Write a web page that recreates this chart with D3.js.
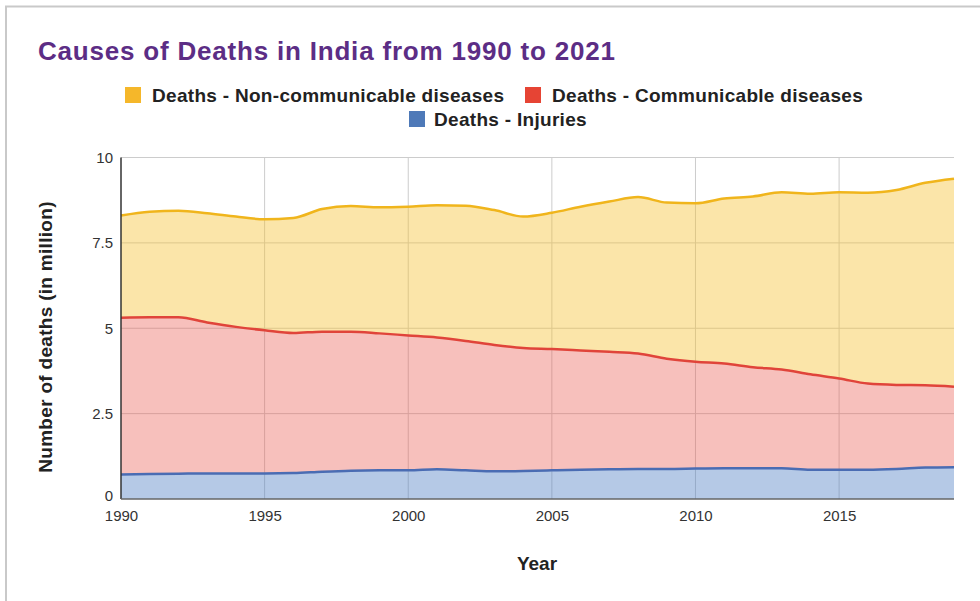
<!DOCTYPE html>
<html><head><meta charset="utf-8">
<script src="https://cdn.jsdelivr.net/npm/d3@7"></script>
<style>html,body{margin:0;padding:0;background:#fff;}svg{display:block;font-family:"Liberation Sans",Arial,sans-serif;}</style>
</head><body>
<script>
const years = [1990,1991,1992,1993,1994,1995,1996,1997,1998,1999,2000,2001,2002,2003,2004,2005,2006,2007,2008,2009,2010,2011,2012,2013,2014,2015,2016,2017,2018,2019];
const injuries = [0.72,0.73,0.74,0.75,0.75,0.75,0.76,0.80,0.83,0.84,0.84,0.87,0.84,0.81,0.82,0.84,0.86,0.87,0.88,0.88,0.89,0.90,0.90,0.90,0.86,0.86,0.86,0.88,0.92,0.93];
const communicable = [4.59,4.59,4.58,4.42,4.29,4.19,4.10,4.10,4.07,4.01,3.95,3.86,3.79,3.70,3.60,3.55,3.49,3.44,3.38,3.23,3.13,3.07,2.96,2.89,2.79,2.67,2.52,2.46,2.41,2.36];
const nonCommunicable = [2.99,3.09,3.12,3.20,3.23,3.25,3.37,3.59,3.68,3.69,3.77,3.87,3.96,3.95,3.85,3.99,4.21,4.40,4.58,4.57,4.64,4.83,5.00,5.19,5.29,5.45,5.59,5.71,5.93,6.09];
const yTicks = [0,2.5,5,7.5,10];
const yTickLabels = ["0","2.5","5","7.5","10"];
const xTicks = [1990,1995,2000,2005,2010,2015];
const seriesNames = ["Deaths - Injuries","Deaths - Communicable diseases","Deaths - Non-communicable diseases"];
const seriesKeys = ["inj","comm","ncd"];

const W = 980, H = 601;
const m = {left:121, right:26, top:157.5, bottom:102};
const svg = d3.select("body").append("svg").attr("width",W).attr("height",H);

// frame
svg.append("line").attr("x1",5).attr("x2",W).attr("y1",6.5).attr("y2",6.5).attr("stroke","#c9c9c9").attr("stroke-width",2);
svg.append("line").attr("x1",6).attr("x2",6).attr("y1",6).attr("y2",H).attr("stroke","#c9c9c9").attr("stroke-width",2);

const x = d3.scaleLinear().domain([1990,2019]).range([m.left, W - m.right]);
const y = d3.scaleLinear().domain([0,10]).range([H - m.bottom, m.top]);

const table = years.map((yr,i)=>({year:yr, inj:injuries[i], comm:communicable[i], ncd:nonCommunicable[i]}));
const stacked = d3.stack().keys(seriesKeys)(table);

const fills = {inj:"#4f7fc4", comm:"#ea5a50", ncd:"#f6c233"};
const fillOp = {inj:0.42, comm:0.38, ncd:0.42};
const strokes = {inj:"#4a6cb3", comm:"#e0443a", ncd:"#f0b51c"};
const legendCol = {inj:"#4e79b8", comm:"#e64434", ncd:"#f5b72a"};

// gridlines
const g = svg.append("g");
g.selectAll(".hg").data(yTicks.filter(d=>d>0)).join("line")
  .attr("x1",x(1990)).attr("x2",x(2019)).attr("y1",d=>y(d)).attr("y2",d=>y(d))
  .attr("stroke","#cccccc").attr("stroke-width",1);
g.selectAll(".vg").data(xTicks.filter(d=>d>1990)).join("line")
  .attr("x1",d=>x(d)).attr("x2",d=>x(d)).attr("y1",y(10)).attr("y2",y(0))
  .attr("stroke","#cccccc").attr("stroke-width",1);

const area = d3.area().x(d=>x(d.data.year)).y0(d=>y(d[0])).y1(d=>y(d[1])).curve(d3.curveMonotoneX);
const line = d3.line().x(d=>x(d.data.year)).y(d=>y(d[1])).curve(d3.curveMonotoneX);

svg.append("g").selectAll("path").data(stacked).join("path")
  .attr("d",area).attr("fill",d=>fills[d.key]).attr("fill-opacity",d=>fillOp[d.key]);
svg.append("g").selectAll("path").data(stacked).join("path")
  .attr("d",line).attr("fill","none").attr("stroke",d=>strokes[d.key]).attr("stroke-width",2.5);

// axes
const yAxis = d3.axisLeft(y).tickValues(yTicks).tickSize(0).tickPadding(8).tickFormat((d,i)=>yTickLabels[i]);
const ya = svg.append("g").attr("transform",`translate(${m.left},0)`).call(yAxis);
ya.select(".domain").remove();
ya.selectAll("text").attr("font-size",15).attr("fill","#333").attr("font-family","Liberation Sans, Arial, sans-serif");
ya.selectAll(".tick").filter(d=>d===0).select("text").attr("dy","0.1em");
svg.append("line").attr("x1",m.left).attr("x2",m.left).attr("y1",y(10)).attr("y2",y(0)).attr("stroke","#333").attr("stroke-width",1.5);

const xAxis = d3.axisBottom(x).tickValues(xTicks).tickSize(0).tickPadding(11).tickFormat(d3.format("d"));
const xa = svg.append("g").attr("transform",`translate(0,${y(0)})`).call(xAxis);
xa.select(".domain").remove();
xa.selectAll("text").attr("font-size",15).attr("fill","#333").attr("font-family","Liberation Sans, Arial, sans-serif");
svg.append("line").attr("x1",m.left).attr("x2",x(2019)).attr("y1",y(0)).attr("y2",y(0)).attr("stroke","#666").attr("stroke-width",1.5);

// titles
svg.append("text").attr("x",38).attr("y",60).attr("font-size",26).attr("letter-spacing",0.8).attr("font-weight","bold").attr("fill","#5c2d85").text("Causes of Deaths in India from 1990 to 2021");
svg.append("text").attr("x",537).attr("y",570).attr("text-anchor","middle").attr("font-size",19).attr("font-weight","bold").attr("fill","#222").text("Year");
svg.append("text").attr("transform","translate(52,337) rotate(-90)").attr("text-anchor","middle").attr("font-size",19).attr("letter-spacing",0.3).attr("font-weight","bold").attr("fill","#222").text("Number of deaths (in million)");

// legend
const legendItems = [
  {key:"ncd", name:seriesNames[2], x:125, y:87},
  {key:"comm", name:seriesNames[1], x:525, y:87},
  {key:"inj", name:seriesNames[0], x:409, y:111}
];
const lg = svg.append("g").selectAll("g").data(legendItems).join("g").attr("transform",d=>`translate(${d.x},${d.y})`);
lg.append("rect").attr("width",16).attr("height",16).attr("fill",d=>legendCol[d.key]);
lg.append("text").attr("x",d=>d.key==="inj"?25:27).attr("y",14.5).attr("font-size",19).attr("letter-spacing",0.3).attr("font-weight","bold").attr("fill","#222").text(d=>d.name);
</script>
</body></html>
